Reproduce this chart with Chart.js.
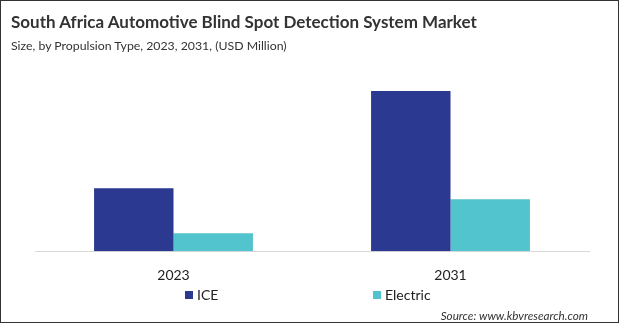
<!DOCTYPE html>
<html><head><meta charset="utf-8">
<script src="https://cdn.jsdelivr.net/npm/chart.js@4"></script>
<style>
html,body{margin:0;padding:0;background:#fff;}
#wrap{position:relative;width:619px;height:323px;box-sizing:border-box;border:1.5px solid #333;overflow:hidden;font-family:Lato,"Open Sans",sans-serif;}
#title{position:absolute;left:10px;top:10px;font-weight:bold;font-size:17px;color:#333;white-space:nowrap;}
#sub{position:absolute;left:10px;top:37px;font-size:12.3px;color:#333;white-space:nowrap;}
#src{position:absolute;right:30px;top:307px;font-size:11.7px;font-style:italic;color:#333;white-space:nowrap;}
#legend{position:absolute;left:0;top:286px;width:619px;height:18px;}
.li{position:absolute;top:0;font-size:14px;color:#222;line-height:16px;white-space:nowrap;}
.li span{display:inline-block;width:8px;height:8px;margin-right:4px;vertical-align:1px;}
canvas{position:absolute;left:0;top:0;}
</style></head><body>
<div id="wrap">
<canvas id="c" width="619" height="323"></canvas>
<div id="title">South Africa Automotive Blind Spot Detection System Market</div>
<div id="sub">Size, by Propulsion Type, 2023, 2031, (USD Million)</div>
<div id="legend"></div>
<div id="src">Source: www.kbvresearch.com</div>
</div>
<script>
const categories = ["2023", "2031"];
const seriesNames = ["ICE", "Electric"];
const iceValues = [6.3, 16.0];
const electricValues = [1.8, 5.2];
const colors = ["#2B3990", "#52C4CD"];

const legendX = [184, 372];
const leg = document.getElementById('legend');
seriesNames.forEach((n, i) => {
  const d = document.createElement('div');
  d.className = 'li';
  d.style.left = legendX[i] + 'px';
  d.innerHTML = '<span style="background:' + colors[i] + '"></span>' + n;
  leg.appendChild(d);
});

new Chart(document.getElementById('c'), {
  type: 'bar',
  data: {
    labels: categories,
    datasets: [
      {label: seriesNames[0], data: iceValues, backgroundColor: colors[0]},
      {label: seriesNames[1], data: electricValues, backgroundColor: colors[1]}
    ]
  },
  options: {
    responsive: false,
    animation: false,
    layout: {padding: {left: 34, right: 31, top: 70, bottom: 24}},
    datasets: {bar: {categoryPercentage: 0.5735, barPercentage: 1}},
    scales: {
      x: {
        grid: {display: false, drawTicks: false},
        border: {color: '#d9d9d9', width: 1},
        ticks: {color: '#222', font: {family: 'Lato', size: 14}, padding: 16}
      },
      y: {display: false, min: 0, max: 18}
    },
    plugins: {
      legend: {display: false},
      tooltip: {enabled: false}
    }
  }
});
</script>
</body></html>
